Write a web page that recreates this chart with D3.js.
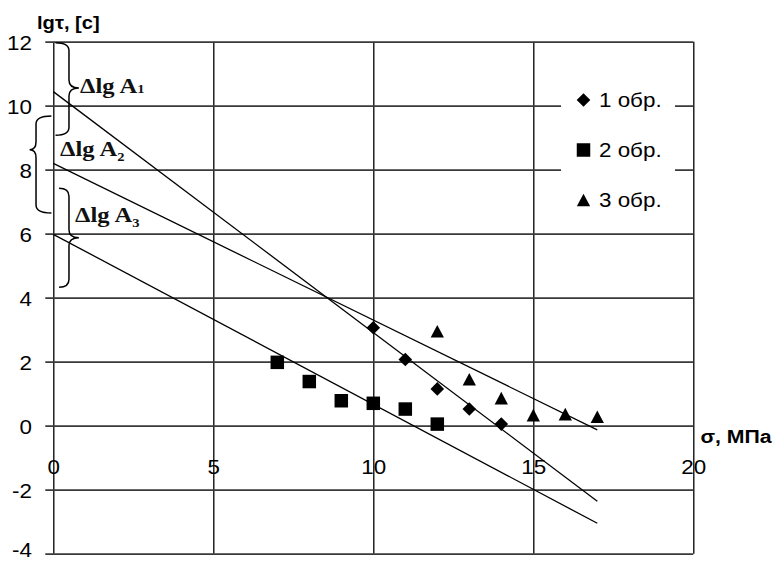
<!DOCTYPE html>
<html><head><meta charset="utf-8">
<script src="https://cdn.jsdelivr.net/npm/d3@7"></script>
<style>html,body{margin:0;padding:0;background:#fff;} svg{display:block;}</style>
</head><body>
<svg id="chart" width="776" height="562"></svg>
<script>
// lg τ versus stress σ for three specimens
const series1X = [10, 11, 12, 13, 14];
const series1Y = [3.06, 2.07, 1.15, 0.52, 0.05];
const series2X = [7, 8, 9, 10, 11, 12];
const series2Y = [1.98, 1.38, 0.78, 0.70, 0.52, 0.05];
const series3X = [12, 13, 14, 15, 16, 17];
const series3Y = [2.95, 1.45, 0.86, 0.33, 0.36, 0.28];

// Straight-line fits, given by their two ends
const fit1X = [0, 17], fit1Y = [10.44, -2.36];
const fit2X = [0, 17], fit2Y = [8.2, -0.13];
const fit3X = [0, 17], fit3Y = [5.98, -3.05];

const seriesNames = ["1 обр.", "2 обр.", "3 обр."];
const xTicks = [0, 5, 10, 15, 20];
const yTicks = [-4, -2, 0, 2, 4, 6, 8, 10, 12];
const yTitle = "lgτ, [с]";
const xTitle = "σ, МПа";
const braceSubs = ["1", "2", "3"];

const svg = d3.select("#chart");
const x = d3.scaleLinear([0, 20], [53.3, 693.3]);
const y = d3.scaleLinear([-4, 12], [553.7, 41.7]);
const SANS = "'Liberation Sans', Arial, sans-serif";
const SERIF = "'Liberation Serif', 'Times New Roman', serif";
const SX = 1.12; // horizontal widening of the sans labels
const plain = d => String(d); // hyphen-minus for negative ticks

// ---- grid (vertical) ----
svg.append("g")
  .attr("transform", `translate(0,${y(12)})`)
  .call(d3.axisBottom(x).tickValues(xTicks).tickSize(y(-4) - y(12)).tickFormat(""))
  .call(g => g.select(".domain").remove())
  .call(g => g.selectAll("line").attr("stroke", "#000").attr("stroke-width", 1.3));

// ---- grid (horizontal) + y labels ----
svg.append("g")
  .attr("transform", `translate(${x(0)},0)`)
  .call(d3.axisLeft(y).tickValues(yTicks).tickFormat(plain).tickSize(-(x(20) - x(0))).tickPadding(21.3))
  .call(g => g.select(".domain").remove())
  .call(g => g.selectAll("line").attr("x1", -8).attr("stroke", "#3a3a3a").attr("stroke-width", 1.7))
  .call(g => g.selectAll("text")
    .attr("x", null).attr("dy", "0.36em")
    .attr("transform", d => `translate(-21.3,${d === -4 ? -4 : 0.5}) scale(${SX},1)`)
    .attr("font-family", SANS).attr("font-size", 20).attr("fill", "#000"));

// ---- x labels ----
svg.append("g")
  .attr("transform", `translate(0,${y(0)})`)
  .call(d3.axisBottom(x).tickValues(xTicks).tickFormat(plain).tickSize(0).tickPadding(0))
  .call(g => g.select(".domain").remove())
  .call(g => g.selectAll("text")
    .attr("y", null).attr("dy", null)
    .attr("transform", `translate(0,48.5) scale(${SX},1)`)
    .attr("font-family", SANS).attr("font-size", 20).attr("fill", "#000"));

// ---- fit lines ----
const line = d3.line().x(d => x(d[0])).y(d => y(d[1]));
[[fit1X, fit1Y], [fit2X, fit2Y], [fit3X, fit3Y]].forEach(([xs, ys]) => {
  svg.append("path")
    .attr("d", line(d3.zip(xs, ys)))
    .attr("fill", "none").attr("stroke", "#000").attr("stroke-width", 1.3);
});

// ---- marker shapes ----
const diamondType = { draw(ctx, s) { const r = Math.sqrt(s) / 2;
  ctx.moveTo(0, -r); ctx.lineTo(r, 0); ctx.lineTo(0, r); ctx.lineTo(-r, 0); ctx.closePath(); } };
const squareType = { draw(ctx, s) { const r = Math.sqrt(s) / 2;
  ctx.rect(-r, -r, 2 * r, 2 * r); } };
const triangleType = { draw(ctx, s) { const w = Math.sqrt(s) / 2, h = w * 0.95;
  ctx.moveTo(0, -h); ctx.lineTo(w, h); ctx.lineTo(-w, h); ctx.closePath(); } };

const markerDefs = [
  { xs: series1X, ys: series1Y, path: d3.symbol(diamondType, 13.6 * 13.6)() },
  { xs: series2X, ys: series2Y, path: d3.symbol(squareType, 13.5 * 13.5)() },
  { xs: series3X, ys: series3Y, path: d3.symbol(triangleType, 13.3 * 13.3)() }
];
markerDefs.forEach(m => {
  svg.append("g").selectAll("path")
    .data(d3.zip(m.xs, m.ys))
    .join("path")
    .attr("d", m.path)
    .attr("transform", d => `translate(${x(d[0])},${y(d[1])})`)
    .attr("fill", "#000");
});

// ---- legend ----
const lg = svg.append("g");
lg.append("rect").attr("x", 561).attr("y", 78).attr("width", 114).attr("height", 146).attr("fill", "#fff");
markerDefs.forEach((m, i) => {
  const cy = 100 + i * 50;
  lg.append("path").attr("d", m.path).attr("transform", `translate(583.5,${cy})`).attr("fill", "#000");
  lg.append("text").text(seriesNames[i])
    .attr("transform", `translate(599,${cy + 7}) scale(${SX},1)`)
    .attr("font-family", SANS).attr("font-size", 20).attr("fill", "#000");
});

// ---- axis titles ----
svg.append("text").text(yTitle)
  .attr("transform", `translate(37,28.5) scale(${SX},1)`)
  .attr("font-family", SANS).attr("font-weight", "bold").attr("font-size", 18).attr("fill", "#000");
svg.append("text").text(xTitle)
  .attr("transform", `translate(700.5,443) scale(${SX},1)`)
  .attr("font-family", SANS).attr("font-weight", "bold").attr("font-size", 19).attr("fill", "#000");

// ---- braces marking Δlg A ranges (data units) ----
const braces = [
  { end: 0.07, body: 0.49, tip: 0.80, top: 11.97, mid: 10.55, bot: 9.08 },
  { end: -0.06, body: -0.54, tip: -0.74, top: 9.68, mid: 8.62, bot: 6.65 },
  { end: 0.18, body: 0.49, tip: 0.80, top: 7.42, mid: 5.87, bot: 4.33 }
];
function bracePath(b) {
  const xe = x(b.end), xb = x(b.body), xt = x(b.tip);
  const yt = y(b.top), ym = y(b.mid), yb = y(b.bot), r = 8;
  return `M${xe},${yt} Q${xb},${yt} ${xb},${yt + r} L${xb},${ym - r} Q${xb},${ym} ${xt},${ym}` +
         ` Q${xb},${ym} ${xb},${ym + r} L${xb},${yb - r} Q${xb},${yb} ${xe},${yb}`;
}
braces.forEach(b => {
  svg.append("path").attr("d", bracePath(b))
    .attr("fill", "none").attr("stroke", "#000").attr("stroke-width", 1.5);
});

const braceText = [
  { px: 80, py: 93, sub: -0.5 },
  { px: 60, py: 156, sub: 5 },
  { px: 75, py: 222, sub: 5 }
];
braceText.forEach((t, i) => {
  const tx = svg.append("text")
    .attr("transform", `translate(${t.px},${t.py}) scale(${SX},1)`)
    .attr("font-family", SERIF).attr("font-weight", "bold").attr("font-size", 22).attr("fill", "#111");
  tx.append("tspan").text("Δlg A");
  tx.append("tspan").text(braceSubs[i]).attr("font-size", 13).attr("dy", t.sub);
});
</script>
</body></html>
